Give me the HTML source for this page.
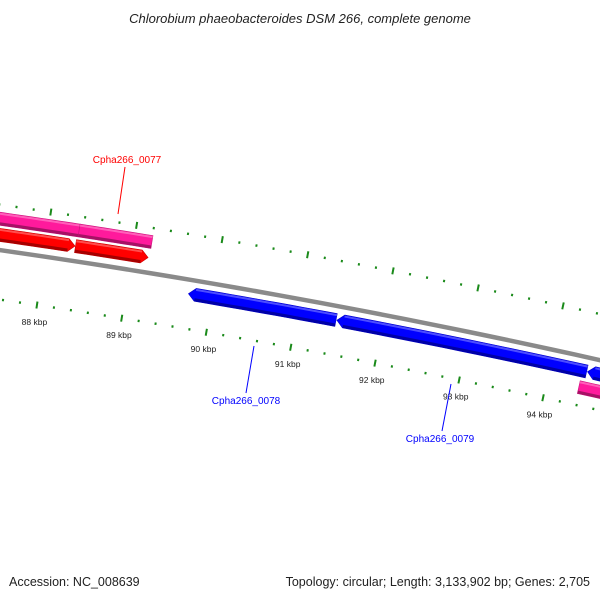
<!DOCTYPE html>
<html><head><meta charset="utf-8"><style>
html,body{margin:0;padding:0;background:#fff}
svg{display:block}
text{font-family:"Liberation Sans","DejaVu Sans",sans-serif}
</style></head><body>
<svg id="map" width="600" height="600" viewBox="0 0 600 600" xmlns="http://www.w3.org/2000/svg">
<text x="300" y="23" text-anchor="middle" font-size="13" font-style="italic" fill="#222">Chlorobium phaeobacteroides DSM 266, complete genome</text>
<g id="ticks"></g>
<g id="feat"></g>
<g id="lbl"></g>
<text x="9" y="586" font-size="12.5" fill="#222">Accession: NC_008639</text>
<text x="590" y="586" text-anchor="end" font-size="12.5" fill="#222">Topology: circular; Length: 3,133,902 bp; Genes: 2,705</text>
</svg>
<script>
// data (kbp)
const featStart = [87.0, 88.354, 87.0, 88.34, 89.72, 91.47, 94.44, 94.38];
const featEnd   = [88.354, 89.205, 88.335, 89.19, 91.46, 94.43, 96.5, 96.5];
const featRing  = ["fwd2","fwd2","fwd1","fwd1","rev1","rev1","rev1","rev2"];
const featColor = ["#ff1a9c","#ff1a9c","#ff0000","#ff0000","#0000ff","#0000ff","#0000ff","#ff1a9c"];
const featArrow = ["none","none","end","end","start","start","start","none"];
const tickLabels = ["88 kbp","89 kbp","90 kbp","91 kbp","92 kbp","93 kbp","94 kbp"];
const tickLabelPos = [88,89,90,91,92,93,94];
const geneNames = ["Cpha266_0077","Cpha266_0078","Cpha266_0079"];
const geneColors = ["#ff0000","#0000ff","#0000ff"];
const geneLabelPos = [[127,163],[246,404],[440,442]];
const geneLinePos = [[125,167,118,214],[254,346,246,393],[451,384,442,431]];

const CX=-1121, CY=8054;
const ringR = {fwd2:7915, fwd1:7899, rev1:7870, rev2:7853};
const NS="http://www.w3.org/2000/svg";
function ang(k){return (8.499+(k-88)*0.6272)*Math.PI/180;}
function pt(k,r){const a=ang(k);return [CX+r*Math.sin(a), CY-r*Math.cos(a)];}
function mk(tag,attrs,parent){const e=document.createElementNS(NS,tag);for(const a in attrs)e.setAttribute(a,attrs[a]);parent.appendChild(e);return e;}

// ticks
const tg=document.getElementById('ticks');
for(let i=0;i<=50;i++){
  const k=87+i*0.2; const major=(i%5===0);
  const len=major?3.5:1.2;
  [7929,7835].forEach(r=>{
    const p1=pt(k,r-len),p2=pt(k,r+len);
    const t=mk('line',{x1:p1[0],y1:p1[1],x2:p2[0],y2:p2[1],stroke:'#1a8a1a','stroke-width':2},tg);
    
    
  });
}
const lg=document.getElementById('lbl');
tickLabels.forEach((s,i)=>{
  const p=pt(tickLabelPos[i],7818);
  const t=mk('text',{x:p[0],y:p[1]+3,'text-anchor':'middle','font-size':'8.5',fill:'#222'},lg);
  t.textContent=s;
  
  
});

// backbone
const fg=document.getElementById('feat');
{
  const pts=[];for(let k=87;k<=96;k+=0.25)pts.push(pt(k,7884).join(','));
  const b=mk('polyline',{points:pts.join(' '),fill:'none',stroke:'#8a8a8a','stroke-width':4.5},fg);
  
  
}
// features
function shade(c,f){const n=parseInt(c.slice(1),16);let r=n>>16,g=(n>>8)&255,b=n&255;r=Math.round(r*f);g=Math.round(g*f);b=Math.round(b*f);return `rgb(${r},${g},${b})`;}
featStart.forEach((s,i)=>{
  const e=featEnd[i], r=ringR[featRing[i]], w=13, c=featColor[i], arr=featArrow[i];
  const ah=0.08; // arrowhead length in kbp
  let a0=s,a1=e;
  if(arr==='end')a1=e-ah; if(arr==='start')a0=s+ah;
  const outer=[],inner=[];
  const n=12;
  for(let j=0;j<=n;j++){const k=a0+(a1-a0)*j/n;outer.push(pt(k,r+w/2));inner.push(pt(k,r-w/2));}
  let poly=[...outer];
  if(arr==='end')poly.push(pt(e,r));
  poly=poly.concat(inner.reverse());
  if(arr==='start')poly.push(pt(s,r));
  const g=mk('g',{},fg);
  
  
  mk('polygon',{points:poly.map(p=>p.join(',')).join(' '),fill:c,stroke:shade(c,0.8),'stroke-width':0.6},g);
  // dark lower shading
  const lo=[];for(let j=0;j<=n;j++){lo.push(pt(a0+(a1-a0)*j/n,r-w/2+1.5));}
  mk('polyline',{points:lo.map(p=>p.join(',')).join(' '),fill:'none',stroke:shade(c,0.65),'stroke-width':3},g);
  const hi=[];for(let j=0;j<=n;j++){hi.push(pt(a0+(a1-a0)*j/n,r+w/2-1.5));}
  mk('polyline',{points:hi.map(p=>p.join(',')).join(' '),fill:'none',stroke:'rgba(255,255,255,0.3)','stroke-width':2},g);
});
// gene labels
geneNames.forEach((s,i)=>{
  const L=geneLinePos[i];
  const ln=mk('line',{x1:L[0],y1:L[1],x2:L[2],y2:L[3],stroke:geneColors[i],'stroke-width':1},lg);
  
  
  const t=mk('text',{x:geneLabelPos[i][0],y:geneLabelPos[i][1],'text-anchor':'middle','font-size':'10',fill:geneColors[i]},lg);
  t.textContent=s;
  
  
});
</script>
</body></html>
